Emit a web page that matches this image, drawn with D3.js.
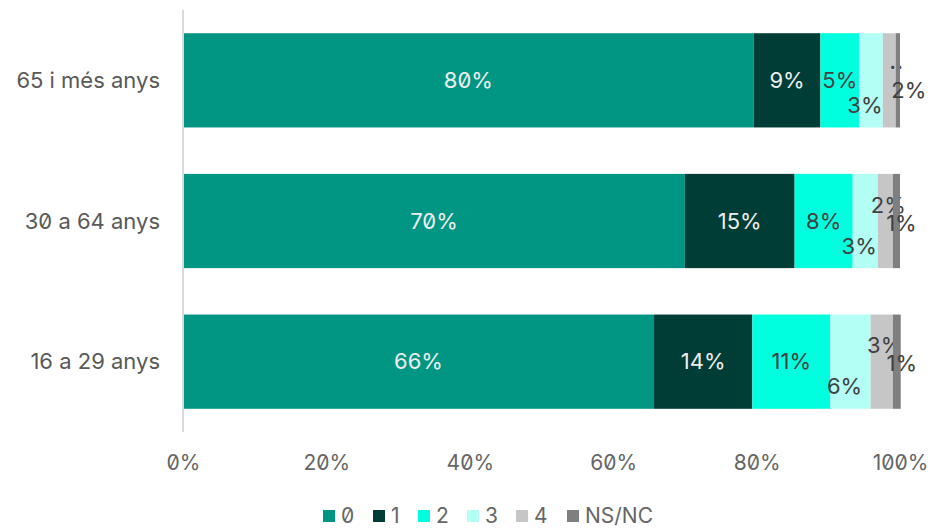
<!DOCTYPE html>
<html>
<head>
<meta charset="utf-8">
<style>
  body { margin: 0; background: #fff; }
  svg text { font-family: Inter, "Noto Sans", sans-serif; font-feature-settings: "zero" 1; }
</style>
</head>
<body>
<svg width="935" height="528"></svg>
<script src="https://cdn.jsdelivr.net/npm/d3@7"></script>
<script>
// dades
const grups = ["65 i més anys", "30 a 64 anys", "16 a 29 anys"]
const series = ["0", "1", "2", "3", "4", "NS/NC"]
const valors = [
  [79.6, 9.3, 5.4, 3.3, 1.8, 0.6],
  [70.0, 15.3, 8.1, 3.5, 2.1, 1.0],
  [65.7, 13.7, 10.9, 5.6, 3.1, 1.1]
]
const etiquetes = [
  ["80%", "9%", "5%", "3%", "..", "2%"],
  ["70%", "15%", "8%", "3%", "2%", "1%"],
  ["66%", "14%", "11%", "6%", "3%", "1%"]
]
const ticks = [0, 20, 40, 60, 80, 100]
const colors = ["#009683", "#003d36", "#00ffdf", "#b3fff5", "#c6c6c6", "#7f7f7f"]
const colorText = ["#eeeeee", "#eeeeee", "#404040", "#404040", "#404040", "#404040"]

const svg = d3.select("svg")
const x = d3.scaleLinear().domain([0, 100]).range([183, 900])
const y = d3.scaleBand().domain(grups).range([10, 432]).paddingInner(0.33).paddingOuter(0.165)

// barres
grups.forEach((g, i) => {
  let acc = 0
  const row = svg.append("g")
  valors[i].forEach((v, j) => {
    const x0 = x(acc), x1 = x(acc + v)
    acc += v
    row.append("rect")
      .attr("x", x0).attr("y", y(g))
      .attr("width", x1 - x0).attr("height", y.bandwidth())
      .attr("fill", colors[j])
    // posicio de l'etiqueta
    let cx = (x0 + x1) / 2, cy = y(g) + y.bandwidth() / 2
    if (j == 3) { cx -= 6; cy += 25 }
    if (j == 4) { cx += 3; cy -= 16 }
    if (j == 5) { cx += 5; cy += 2 }
    if (i == 0 && j == 4) { cx += 4; cy -= 4 }
    if (i == 0 && j == 5) { cx += 6; cy += 8 }
    row.append("text")
      .attr("x", cx).attr("y", cy)
      .attr("dy", "0.35em")
      .attr("text-anchor", "middle")
      .attr("font-size", j == 4 && i == 0 ? 24 : 22)
      .attr("fill", colorText[j])
      .text(etiquetes[i][j])
  })
})

// eix vertical
svg.append("line")
  .attr("x1", x(0)).attr("x2", x(0))
  .attr("y1", 10).attr("y2", 432)
  .attr("stroke", "#d9d9d9").attr("stroke-width", 2)

// categories
svg.append("g").selectAll("text").data(grups).join("text")
  .attr("x", 160)
  .attr("y", d => y(d) + y.bandwidth() / 2)
  .attr("dy", "0.35em")
  .attr("text-anchor", "end")
  .attr("font-size", 22)
  .attr("fill", "#595959")
  .text(d => d)

// eix x
const ax = svg.append("g")
  .attr("transform", "translate(0, 452)")
  .call(d3.axisBottom(x).tickValues(ticks).tickFormat(d => d + "%").tickSize(0))
ax.select(".domain").remove()
ax.selectAll("text")
  .attr("font-size", 21)
  .attr("fill", "#666666")

// llegenda
const posLlegenda = [323, 373, 418, 467, 516, 567]
const leg = svg.append("g")
series.forEach((s, j) => {
  leg.append("rect")
    .attr("x", posLlegenda[j]).attr("y", 510)
    .attr("width", 12).attr("height", 12)
    .attr("fill", colors[j])
  leg.append("text")
    .attr("x", posLlegenda[j] + 18).attr("y", 516)
    .attr("dy", "0.35em")
    .attr("font-size", 21)
    .attr("fill", "#666666")
    .text(s)
})
</script>
</body>
</html>
